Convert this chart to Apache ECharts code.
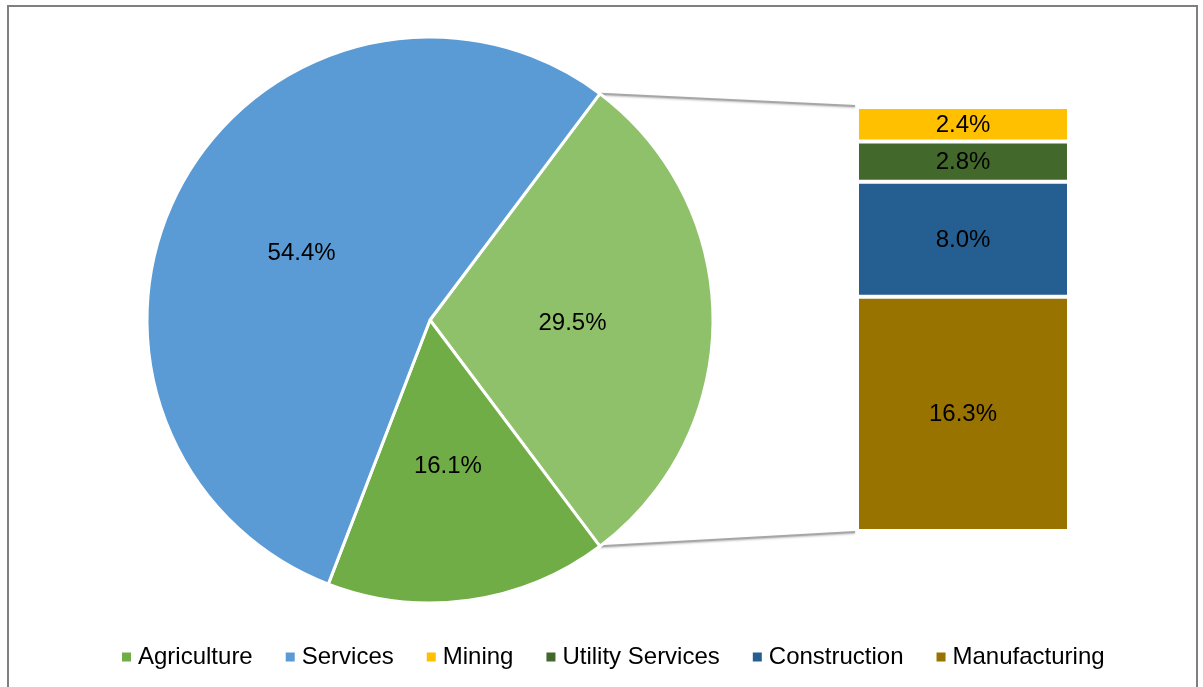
<!DOCTYPE html>
<html>
<head>
<meta charset="utf-8">
<script src="https://cdn.jsdelivr.net/npm/echarts@6/dist/echarts.min.js"></script>
<style>
  html, body { margin: 0; padding: 0; background: #fff; }
  #chart { width: 1203px; height: 687px; }
</style>
</head>
<body>
<div id="chart"></div>
<script>
// Sector shares of the economy (%)
const pieNames = ['Industry', 'Agriculture', 'Services'];
const pieValues = [29.5, 16.1, 54.4];
const pieColors = ['#8FC16B', '#70AD47', '#5B9BD5'];

// Breakdown of the industry slice, bottom to top of the stacked column
const barNames = ['Manufacturing', 'Construction', 'Utility Services', 'Mining'];
const barValues = [16.3, 8.0, 2.8, 2.4];
const barColors = ['#997300', '#255E91', '#43682B', '#FFC000'];

const legendNames = ['Agriculture', 'Services', 'Mining', 'Utility Services', 'Construction', 'Manufacturing'];

const FONT = 'Liberation Sans, Arial, sans-serif';
const FONT_SIZE = 24;
const pieCenter = [430, 320];
const pieRadius = 283;
const industryTotal = pieValues[0];
// place the industry slice symmetrically around 3 o'clock
const startAngle = industryTotal / 100 * 360 / 2;

const chart = echarts.init(document.getElementById('chart'), null, { renderer: 'canvas' });

const pctLabel = p => p.value.toFixed(1) + '%';
const colorOf = n => pieNames.includes(n) ? pieColors[pieNames.indexOf(n)] : barColors[barNames.indexOf(n)];

const barSeries = barNames.map((name, i) => ({
  name: name,
  type: 'bar',
  stack: 'industry',
  barWidth: '100%',
  data: [barValues[i]],
  itemStyle: { color: barColors[i], borderColor: '#fff', borderWidth: 2 },
  label: {
    show: true, position: 'inside', formatter: pctLabel, offset: [0, 1],
    color: '#000', fontSize: FONT_SIZE, fontFamily: FONT
  },
  emphasis: { disabled: true }
}));

const option = {
  animation: false,
  backgroundColor: '#fff',
  legend: {
    data: legendNames.map(n => ({ name: n, itemStyle: { color: colorOf(n), borderWidth: 0 } })),
    bottom: 13,
    left: 117,
    icon: 'rect',
    itemWidth: 9,
    itemHeight: 9,
    itemGap: 33,
    textStyle: { fontSize: FONT_SIZE, fontFamily: FONT, color: '#000', padding: [0, 0, 0, 2] },
    selectedMode: false
  },
  grid: { left: 857, top: 107, width: 212, height: 424 },
  xAxis: { type: 'category', data: ['Industry'], show: false },
  yAxis: { type: 'value', min: 0, max: industryTotal, show: false },
  series: [
    {
      type: 'pie',
      center: pieCenter,
      radius: pieRadius,
      startAngle: startAngle,
      clockwise: true,
      data: pieNames.map((n, i) => ({ name: n, value: pieValues[i], itemStyle: { color: pieColors[i] } })),
      itemStyle: { borderColor: '#fff', borderWidth: 3 },
      label: {
        show: true, position: 'inside', formatter: pctLabel, offset: [-2, 3],
        color: '#000', fontSize: FONT_SIZE, fontFamily: FONT
      },
      labelLine: { show: false },
      emphasis: { disabled: true }
    },
    ...barSeries
  ]
};

chart.setOption(option);

// connector lines from the industry slice edges to the column corners, plus the outer frame
function drawConnectors() {
  const a = startAngle * Math.PI / 180;
  const topPt = [pieCenter[0] + pieRadius * Math.cos(a), pieCenter[1] - pieRadius * Math.sin(a)];
  const botPt = [pieCenter[0] + pieRadius * Math.cos(a), pieCenter[1] + pieRadius * Math.sin(a)];
  const colTop = chart.convertToPixel({ gridIndex: 0 }, ['Industry', industryTotal]);
  const colBot = chart.convertToPixel({ gridIndex: 0 }, ['Industry', 0]);
  const colLeft = 857;
  const lineStyle = { stroke: '#a6a6a6', lineWidth: 2, shadowBlur: 2, shadowColor: 'rgba(0,0,0,0.25)', shadowOffsetY: 1 };
  chart.setOption({
    graphic: [
      {
        type: 'rect', silent: true, z: 100,
        shape: { x: 8, y: 6, width: 1189, height: 700 },
        style: { fill: 'none', stroke: '#7f7f7f', lineWidth: 2 }
      },
      { type: 'line', silent: true, z: 0, shape: { x1: topPt[0], y1: topPt[1], x2: colLeft - 2, y2: colTop[1] - 1 }, style: lineStyle },
      { type: 'line', silent: true, z: 0, shape: { x1: botPt[0], y1: botPt[1], x2: colLeft - 2, y2: colBot[1] + 1 }, style: lineStyle }
    ]
  });
}
drawConnectors();
</script>
</body>
</html>
